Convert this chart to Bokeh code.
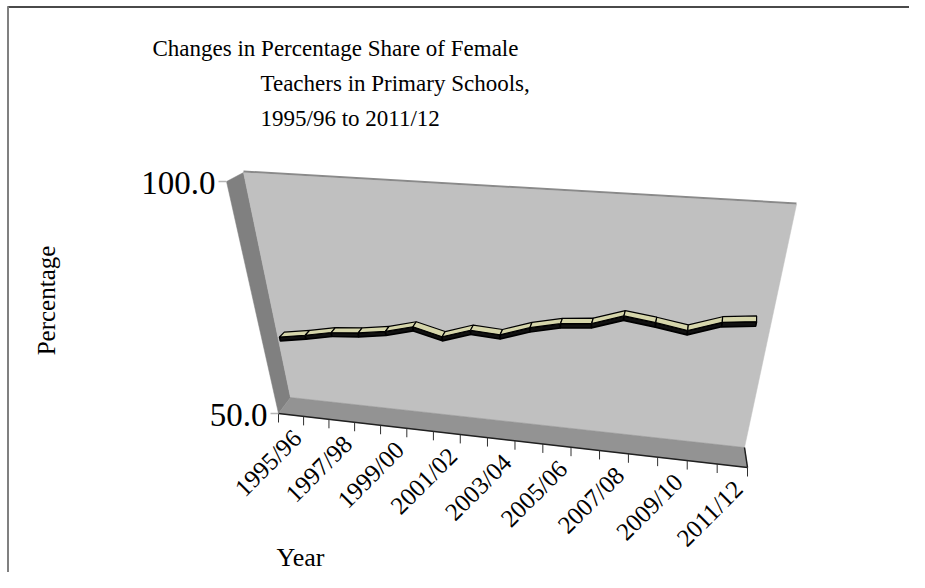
import numpy as np
from bokeh.plotting import figure
from bokeh.models import Range1d
from bokeh.embed import file_html
from bokeh.resources import INLINE
from bokeh.core.properties import value

# ---------------- data ----------------
categories = ["1995/96", "1996/97", "1997/98", "1998/99", "1999/00", "2000/01",
              "2001/02", "2002/03", "2003/04", "2004/05", "2005/06", "2006/07",
              "2007/08", "2008/09", "2009/10", "2010/11", "2011/12"]
share = [67.4, 68.4, 69.6, 70.1, 71.0, 72.6, 71.0, 73.0, 72.6, 74.7, 76.1,
         76.7, 78.8, 78.0, 77.0, 79.2, 79.9]
y_ticks = [50.0, 100.0]
y_tick_labels = ["50.0", "100.0"]
title_lines = ["Changes in Percentage Share of Female",
               "Teachers in Primary Schools,",
               "1995/96 to 2011/12"]
x_title = "Year"
y_title = "Percentage"

VMIN, VMAX = y_ticks[0], y_ticks[-1]
N = len(categories)

# ---------------- perspective geometry (layout) ----------------
BACK = [(290, 397), (744, 447), (796, 204), (243, 172)]   # BL, BR, TR, TL
FRONT = [(278, 413), (747, 467), (794, 217), (226, 181)]
SRC = [(0, 0), (1, 0), (1, 1), (0, 1)]


def homography(src, dst):
    A, b = [], []
    for (x, y), (X, Y) in zip(src, dst):
        A.append([x, y, 1, 0, 0, 0, -X * x, -X * y]); b.append(X)
        A.append([0, 0, 0, x, y, 1, -Y * x, -Y * y]); b.append(Y)
    h = np.linalg.solve(np.array(A, float), np.array(b, float))
    return np.append(h, 1.0).reshape(3, 3)


HB = homography(SRC, BACK)
HF = homography(SRC, FRONT)


def _ap(Hm, u, t):
    r = Hm @ np.array([u, t, 1.0])
    return r[0] / r[2], r[1] / r[2]


def proj(ci, v, z):
    """ci: category position (0..N), v: value, z: depth 0=front 1=back -> screen (x, -y)"""
    u = ci / N
    t = (v - VMIN) / (VMAX - VMIN)
    fx, fy = _ap(HF, u, t)
    bx, by = _ap(HB, u, t)
    x = fx * (1 - z) + bx * z
    y = fy * (1 - z) + by * z
    return x, -y


W, H = 909, 572
p = figure(width=W, height=H, x_range=Range1d(0, W), y_range=Range1d(-H, 0),
           output_backend="svg", toolbar_location=None, min_border=0,
           x_axis_location=None, y_axis_location=None)
p.grid.visible = False
p.outline_line_color = None
p.background_fill_color = "white"

# chart-area border (top and left visible)
p.line([7, W], [-6.5, -6.5], line_color="#4a4a4a", line_width=2)
p.line([7.5, 7.5], [-6, -H], line_color="#808080", line_width=2)


def poly(pts):
    return [q[0] for q in pts], [q[1] for q in pts]


# left side wall
lw = [proj(0, VMAX, 0), proj(0, VMAX, 1), proj(0, VMIN, 1), proj(0, VMIN, 0)]
xs, ys = poly(lw)
p.patch(xs, ys, fill_color="#808080", line_color="#808080", line_width=0.5)
# back wall
bw = [proj(0, VMAX, 1), proj(N, VMAX, 1), proj(N, VMIN, 1), proj(0, VMIN, 1)]
xs, ys = poly(bw)
p.patch(xs, ys, fill_color="#c0c0c0", line_color="#c0c0c0", line_width=0.5)
tl, tr = proj(0, VMAX, 1), proj(N, VMAX, 1)
p.line([tl[0], tr[0]], [tl[1] + 1, tr[1] + 1], line_color="#8a8a8a", line_width=2)
# floor
fl = [proj(0, VMIN, 1), proj(N, VMIN, 1), proj(N, VMIN, 0), proj(0, VMIN, 0)]
xs, ys = poly(fl)
p.patch(xs, ys, fill_color="#939393", line_color="#939393", line_width=0.5)

# floor front edge & right side edge
a, b = proj(0, VMIN, 0), proj(N, VMIN, 0)
p.line([a[0], b[0]], [a[1], b[1]], line_color="#202020", line_width=1.5)
c = proj(N, VMIN, 1)
p.line([c[0], b[0]], [c[1], b[1]], line_color="#202020", line_width=1.5)

# category ticks along front edge
tx0, ty0, tx1, ty1 = [], [], [], []
for k in range(N + 1):
    x0, y0 = proj(k, VMIN, 0)
    tx0.append(x0); ty0.append(y0); tx1.append(x0); ty1.append(y0 - 9)
p.segment(tx0, ty0, tx1, ty1, line_color="#303030", line_width=1)

# value ticks and labels
for v, lab in zip(y_ticks, y_tick_labels):
    x0, y0 = proj(0, v, 0)
    p.segment([x0 - 8], [y0], [x0], [y0], line_color="#b4b4b4", line_width=1.5)
    p.text([x0 - 11], [y0 - 1], text=[lab], text_align="right", text_baseline="middle",
           text_font=value("Liberation Serif"), text_font_size="33px", text_color="#000000")

# category labels (every other)
lx, ly, lt = [], [], []
for k in range(0, N, 2):
    x0, y0 = proj(k + 0.5, VMIN, 0)
    lx.append(x0 + 6); ly.append(y0 - 19); lt.append(categories[k])
p.text(lx, ly, text=lt, angle=np.pi / 4, text_align="right", text_baseline="middle",
       text_font=value("Liberation Serif"), text_font_size="25px", text_color="#000000")

# ribbon series
h = 0.45
zf, zb = 0.32, 0.68
top_xs, top_ys, fr_xs, fr_ys = [], [], [], []
for i in range(N - 1):
    c0, c1 = i + 0.5, i + 1.5
    v0, v1 = share[i], share[i + 1]
    top = [proj(c0, v0 + h, zf), proj(c1, v1 + h, zf), proj(c1, v1 + h, zb), proj(c0, v0 + h, zb)]
    fr = [proj(c0, v0 + h, zf), proj(c1, v1 + h, zf), proj(c1, v1 - h, zf), proj(c0, v0 - h, zf)]
    xs, ys = poly(top); top_xs.append(xs); top_ys.append(ys)
    xs, ys = poly(fr); fr_xs.append(xs); fr_ys.append(ys)
p.patches(fr_xs, fr_ys, fill_color="#111111", line_color="#000000", line_width=1.6)
p.patches(top_xs, top_ys, fill_color="#d6d6ab", line_color="#000000", line_width=1.2)

# titles
title_pos = [(152, 48), (260, 83), (260, 118)]
for (x0, y0), t in zip(title_pos, title_lines):
    p.text([x0], [-y0], text=[t], text_align="left", text_baseline="middle",
           text_font=value("Liberation Serif"), text_font_size="23px", text_color="#000000")

p.text([46], [-300], text=[y_title], angle=np.pi / 2, text_align="center", text_baseline="middle",
       text_font=value("Liberation Serif"), text_font_size="25px", text_color="#000000")
p.text([300], [-557], text=[x_title], text_align="center", text_baseline="middle",
       text_font=value("Liberation Serif"), text_font_size="26px", text_color="#000000")

open("out.html", "w").write(file_html(p, INLINE))
